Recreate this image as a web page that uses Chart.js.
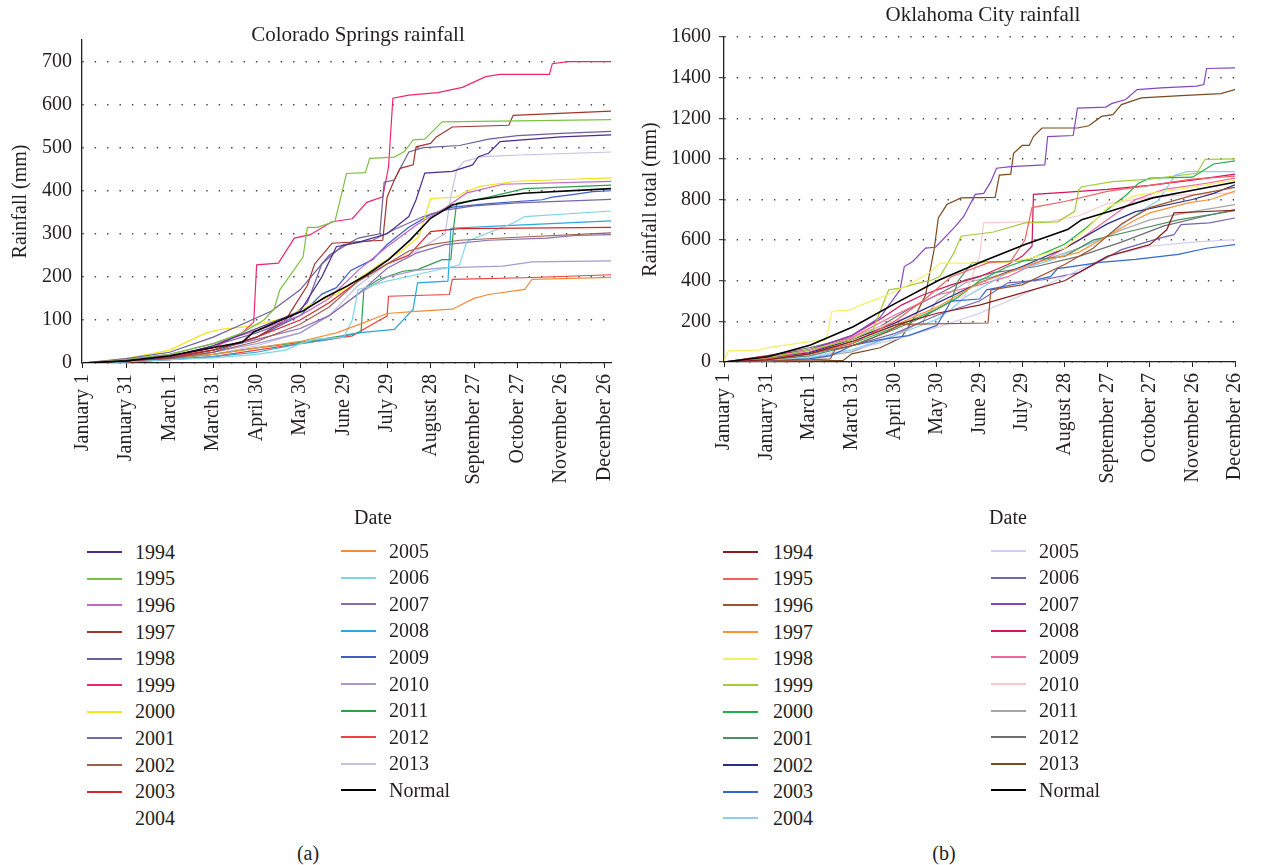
<!DOCTYPE html>
<html>
<head>
<meta charset="utf-8">
<script src="https://cdn.jsdelivr.net/npm/chart.js@4.4.1/dist/chart.umd.min.js"></script>
<style>
  body { margin: 0; background: #fff; font-family: 'Liberation Serif', serif; color: #231f20; }
  #page { position: relative; width: 1265px; height: 865px; overflow: hidden; }
  canvas { position: absolute; top: 0; }
  .t { position: absolute; font-size: 20px; line-height: 24px; white-space: nowrap; }
  .c { transform: translateX(-50%); }
  .sw { position: absolute; width: 35px; height: 2px; }
</style>
</head>
<body>
<div id="page">
  <canvas id="co" width="640" height="530" style="left:0px"></canvas>
  <canvas id="ok" width="635" height="530" style="left:630px"></canvas>
  <div class="t c" style="left:358px;top:22px;font-size:21px">Colorado Springs rainfall</div>
  <div class="t c" style="left:983px;top:2px;font-size:21px">Oklahoma City rainfall</div>
  <div class="t c" style="left:373px;top:505px">Date</div>
  <div class="t c" style="left:1008px;top:505px">Date</div>
  <div class="t c" style="left:308px;top:841px">(a)</div>
  <div class="t c" style="left:944px;top:841px">(b)</div>
</div>
<script>
// tick labels (leap-year day numbers, every 30 days)
const dateLabels = ['January 1', 'January 31', 'March 1', 'March 31', 'April 30', 'May 30', 'June 29',
  'July 29', 'August 28', 'September 27', 'October 27', 'November 26', 'December 26'];
const dateTicks = [0, 30, 60, 90, 120, 150, 180, 210, 240, 270, 300, 330, 360];
const coTicks = [0, 100, 200, 300, 400, 500, 600, 700];
const okTicks = [0, 200, 400, 600, 800, 1000, 1200, 1400, 1600];
const years = ['1994', '1995', '1996', '1997', '1998', '1999', '2000', '2001', '2002', '2003', '2004',
  '2005', '2006', '2007', '2008', '2009', '2010', '2011', '2012', '2013', 'Normal'];

// Colorado Springs, cumulative rainfall (mm) as [day, total]
const co1994 = [[0,0],[30,5],[60,15],[90,40],[120,80],[150,120],[165,200],[175,270],[190,280],[210,300],[225,340],[230,379],[236,441],[255,445],[269,460],[273,479],[280,487],[288,514],[330,525],[365,530]];
const co1995 = [[0,0],[30,8],[60,20],[90,45],[110,70],[125,100],[132,125],[136,170],[152,246],[155,315],[162,315],[174,329],[179,398],[182,440],[195,442],[198,475],[215,478],[222,491],[228,518],[236,520],[248,560],[365,565]];
const co1996 = [[0,0],[30,8],[60,20],[90,45],[120,75],[150,110],[170,150],[190,215],[210,270],[230,320],[250,360],[265,395],[290,415],[365,422]];
const co1997 = [[0,0],[30,5],[60,12],[90,30],[120,60],[140,100],[155,180],[160,230],[172,278],[207,285],[210,385],[215,425],[219,452],[228,460],[230,502],[240,510],[244,525],[255,548],[294,552],[297,575],[365,585]];
const co1998 = [[0,0],[30,10],[60,25],[90,60],[110,90],[130,120],[150,170],[170,250],[190,290],[205,300],[208,420],[215,425],[225,490],[235,500],[260,505],[280,520],[300,528],[330,533],[365,538]];
const co1999 = [[0,0],[30,5],[60,15],[90,35],[110,70],[118,95],[120,228],[135,232],[146,290],[157,298],[172,328],[186,335],[196,373],[207,386],[211,455],[214,615],[225,622],[245,628],[262,640],[278,665],[288,670],[322,670],[324,695],[335,700],[365,700]];
const co2000 = [[0,0],[30,10],[60,30],[85,70],[95,78],[115,85],[140,105],[160,140],[175,160],[190,195],[205,230],[220,260],[232,294],[240,382],[258,385],[263,396],[274,410],[299,422],[365,430]];
const co2001 = [[0,0],[30,5],[60,12],[90,40],[120,70],[140,95],[155,140],[165,230],[180,275],[200,285],[215,310],[235,340],[250,355],[270,365],[300,372],[365,380]];
const co2002 = [[0,0],[30,5],[60,10],[90,25],[120,50],[150,90],[170,130],[190,190],[210,230],[225,260],[240,275],[260,285],[300,292],[365,302]];
const co2003 = [[0,0],[30,5],[60,15],[90,30],[120,60],[150,100],[170,140],[190,190],[210,230],[225,250],[240,305],[260,312],[365,315]];
const co2004 = [[0,0],[60,15],[120,60],[180,180],[240,280],[300,300],[365,310]];
const co2005 = [[0,0],[30,5],[60,12],[90,20],[120,35],[150,50],[175,70],[195,95],[210,115],[230,120],[255,125],[270,150],[280,159],[305,171],[310,194],[365,199]];
const co2006 = [[0,0],[30,3],[60,8],[90,12],[120,20],[140,30],[150,45],[160,55],[180,60],[186,100],[190,170],[210,190],[230,205],[250,220],[260,228],[265,282],[297,325],[305,340],[365,353]];
const co2007 = [[0,0],[30,5],[60,12],[90,30],[120,55],[150,80],[170,110],[190,160],[210,220],[230,255],[250,275],[280,285],[320,290],[340,296],[365,298]];
const co2008 = [[0,0],[30,3],[60,8],[90,15],[120,25],[150,45],[170,55],[190,70],[215,78],[228,125],[231,186],[252,190],[254,313],[300,320],[365,330]];
const co2009 = [[0,0],[30,3],[60,10],[90,25],[120,60],[150,110],[165,160],[175,175],[185,215],[200,240],[210,275],[225,315],[240,345],[255,362],[280,370],[317,379],[324,385],[338,391],[352,398],[365,400]];
const co2010 = [[0,0],[30,5],[60,12],[90,25],[120,45],[150,70],[170,110],[190,160],[210,200],[230,215],[248,221],[290,225],[310,235],[365,237]];
const co2011 = [[0,0],[30,3],[60,10],[90,20],[120,35],[150,48],[179,63],[192,71],[194,171],[204,194],[221,213],[231,217],[248,240],[254,240],[256,317],[258,371],[280,385],[305,405],[365,413]];
const co2012 = [[0,0],[30,2],[60,8],[90,15],[120,30],[150,45],[170,55],[186,63],[205,100],[210,109],[211,155],[253,159],[255,194],[305,198],[365,205]];
const co2013 = [[0,0],[30,5],[60,10],[90,20],[120,40],[150,70],[170,110],[190,180],[210,230],[230,260],[250,300],[254,387],[258,448],[263,468],[276,479],[302,483],[365,490]];
const coNormal = [[0,0],[30,5],[60,17],[90,36],[110,48],[118,72],[133,94],[152,121],[167,152],[182,178],[196,205],[211,240],[226,286],[240,336],[255,367],[270,378],[304,394],[365,405]];

// Oklahoma City, cumulative rainfall (mm) as [day, total]
const ok1994 = [[0,0],[30,10],[60,40],[90,100],[120,180],[150,240],[180,280],[210,340],[240,400],[270,520],[300,578],[312,652],[317,734],[360,747]];
const ok1995 = [[0,0],[30,15],[60,40],[90,90],[120,200],[140,300],[160,420],[187,490],[202,495],[212,600],[217,760],[240,790],[270,840],[300,870],[330,900],[360,915]];
const ok1996 = [[0,0],[30,5],[60,10],[75,15],[78,60],[95,90],[115,150],[125,185],[186,192],[188,355],[210,380],[240,480],[260,560],[280,680],[300,760],[330,820],[360,860]];
const ok1997 = [[0,0],[30,10],[60,40],[90,100],[120,180],[150,270],[165,330],[180,390],[200,440],[220,490],[250,540],[270,620],[290,700],[300,734],[327,783],[343,800],[360,841]];
const ok1998 = [[0,0],[3,55],[25,58],[30,70],[60,100],[72,110],[76,250],[88,255],[100,290],[115,330],[130,380],[145,440],[152,487],[176,487],[200,490],[215,510],[240,560],[255,650],[270,760],[290,820],[320,850],[360,895]];
const ok1999 = [[0,0],[30,20],[60,60],[90,110],[105,160],[116,355],[124,364],[137,388],[147,405],[152,421],[162,537],[167,619],[190,640],[212,685],[235,690],[247,742],[250,849],[252,863],[274,888],[300,900],[333,929],[339,998],[360,1000]];
const ok2000 = [[0,0],[30,15],[60,40],[90,90],[120,170],[150,260],[165,320],[180,400],[200,470],[220,520],[240,580],[255,660],[270,750],[283,820],[292,880],[300,905],[330,910],[345,975],[360,990]];
const ok2001 = [[0,0],[30,10],[60,30],[90,80],[120,160],[140,220],[160,300],[165,400],[175,490],[200,495],[215,500],[240,520],[260,600],[290,650],[320,700],[360,745]];
const ok2002 = [[0,0],[30,15],[60,45],[90,110],[120,190],[150,290],[180,390],[210,470],[240,560],[270,680],[290,740],[330,800],[345,830],[360,872]];
const ok2003 = [[0,0],[30,5],[60,15],[75,30],[90,80],[110,110],[130,130],[150,180],[160,300],[180,310],[185,355],[210,390],[230,420],[235,460],[245,470],[265,490],[290,505],[320,530],[340,560],[360,578]];
const ok2004 = [[0,0],[30,5],[60,20],[90,60],[120,130],[135,170],[150,210],[160,260],[170,320],[200,440],[230,500],[250,560],[270,620],[285,700],[300,770],[306,795],[318,920],[326,937],[360,937]];
const ok2005 = [[0,0],[30,10],[60,30],[90,60],[120,110],[150,170],[180,240],[210,330],[240,420],[270,520],[300,570],[330,590],[360,602]];
const ok2006 = [[0,0],[30,15],[60,40],[90,80],[120,140],[150,230],[180,300],[200,390],[225,405],[250,440],[280,553],[307,610],[317,627],[322,676],[342,685],[360,709]];
const ok2007 = [[0,0],[30,20],[60,60],[90,130],[110,220],[124,355],[127,470],[133,495],[142,561],[149,565],[163,668],[169,718],[177,825],[183,830],[188,888],[192,954],[202,962],[226,970],[228,1110],[246,1115],[249,1250],[269,1255],[273,1272],[283,1292],[291,1341],[308,1350],[333,1358],[338,1366],[340,1445],[360,1448]];
const ok2008 = [[0,0],[30,30],[60,60],[90,130],[110,210],[125,280],[140,330],[160,380],[180,420],[200,480],[210,520],[217,570],[218,825],[240,835],[270,850],[300,870],[330,895],[360,925]];
const ok2009 = [[0,0],[30,20],[60,50],[90,120],[120,230],[150,330],[180,380],[200,420],[230,520],[250,600],[270,700],[290,800],[310,850],[340,880],[360,905]];
const ok2010 = [[0,0],[30,25],[60,60],[90,120],[120,200],[150,260],[170,330],[180,520],[183,685],[230,693],[250,720],[270,780],[300,810],[330,825],[360,833]];
const ok2011 = [[0,0],[30,5],[60,20],[90,50],[120,130],[140,200],[150,300],[170,390],[190,420],[220,490],[250,560],[280,650],[300,700],[330,740],[360,775]];
const ok2012 = [[0,0],[30,30],[60,70],[90,120],[110,175],[130,260],[150,330],[170,405],[190,440],[220,470],[250,520],[280,590],[310,670],[340,720],[360,750]];
const ok2013 = [[0,0],[30,2],[60,5],[84,8],[90,40],[110,70],[125,120],[135,230],[142,330],[148,553],[151,709],[157,775],[167,808],[191,810],[194,920],[202,925],[204,1028],[210,1066],[215,1066],[218,1110],[224,1152],[249,1152],[257,1163],[266,1209],[274,1218],[280,1267],[294,1300],[322,1311],[350,1321],[360,1341]];
const okNormal = [[0,0],[31,26],[61,84],[91,174],[121,290],[152,405],[182,495],[212,578],[242,652],[252,701],[272,742],[302,808],[333,849],[360,885]];

const coSeries = [co1994, co1995, co1996, co1997, co1998, co1999, co2000, co2001, co2002, co2003, co2004,
  co2005, co2006, co2007, co2008, co2009, co2010, co2011, co2012, co2013, coNormal];
const okSeries = [ok1994, ok1995, ok1996, ok1997, ok1998, ok1999, ok2000, ok2001, ok2002, ok2003, ok2004,
  ok2005, ok2006, ok2007, ok2008, ok2009, ok2010, ok2011, ok2012, ok2013, okNormal];

const coColors = ['#4b2c8f', '#7cc242', '#c266c4', '#a3352f', '#6d5e9c', '#f0266d', '#f2e51d', '#7566a6',
  '#a0604a', '#d9262a', '#ffffff', '#f28c3c', '#7fd5e3', '#8a6bb0', '#2aa6e0', '#3d5fc4', '#a89ad0',
  '#2e9e4a', '#f04040', '#c6c0e0', '#000000'];
const okColors = ['#8b1c1c', '#f26060', '#a0522d', '#f7943a', '#f5f060', '#a3cc3a', '#22b04b', '#4e8f5e',
  '#2c2c88', '#3366cc', '#8ccdf0', '#d0cdf0', '#7464b4', '#8447c0', '#d4145a', '#f2679a', '#f9c9cc',
  '#a6a6a6', '#6e6e6e', '#7b4a1e', '#000000'];

const FONT = 'Liberation Serif';
const INK = '#231f20';

function buildDatasets(series, colors) {
  return series.map((s, i) => ({
    label: years[i],
    data: s.map(p => ({ x: p[0], y: p[1] })),
    borderColor: colors[i],
    borderWidth: years[i] === 'Normal' ? 1.6 : 1.2,
    pointRadius: 0,
    fill: false,
    tension: 0,
    order: years[i] === 'Normal' ? -1 : (colors[i] === '#ffffff' ? 99 : i)
  }));
}

function makeChart(id, series, colors, o) {
  return new Chart(document.getElementById(id), {
    type: 'line',
    data: { datasets: buildDatasets(series, colors) },
    options: {
      responsive: false,
      animation: false,
      devicePixelRatio: 1,
      layout: { padding: { left: 0, top: o.top, right: o.right, bottom: 0 } },
      plugins: { legend: { display: false }, tooltip: { enabled: false } },
      scales: {
        x: {
          type: 'linear',
          min: o.xMin,
          max: o.xMax,
          afterBuildTicks: s => { s.ticks = dateTicks.map(v => ({ value: v })); },
          afterFit: s => { s.height = o.xHeight; },
          ticks: {
            autoSkip: false, minRotation: 90, maxRotation: 90, padding: 6, color: INK,
            font: { family: FONT, size: 20 },
            callback: (v, i) => dateLabels[i]
          },
          grid: { drawOnChartArea: false, drawTicks: true, tickLength: 5, color: INK, lineWidth: 1 },
          border: { display: true, color: INK, width: 1.3 }
        },
        y: {
          min: 0,
          max: o.yMax,
          afterBuildTicks: s => { s.ticks = o.yTicks.map(v => ({ value: v })); },
          afterFit: s => { s.width = o.yWidth; },
          ticks: {
            padding: o.tickMarks ? 8 : 10, color: INK, font: { family: FONT, size: 20 },
            callback: v => String(v)
          },
          grid: {
            color: '#444', lineWidth: 1.4, drawTicks: o.tickMarks, tickLength: 5,
            tickColor: INK, tickWidth: 1, tickBorderDash: []
          },
          border: { display: true, color: INK, width: 1.3, dash: [1.4, 11] },
          title: {
            display: true, text: o.yTitle, color: INK,
            font: { family: FONT, size: 20 }, padding: { top: 9, bottom: 0 }
          }
        }
      }
    }
  });
}

makeChart('co', coSeries, coColors, {
  top: 40, right: 29, xHeight: 167, yWidth: 82, xMin: -0.5, xMax: 364.5,
  yMax: 750, yTicks: coTicks, yTitle: 'Rainfall (mm)', tickMarks: false
});
makeChart('ok', okSeries, okColors, {
  top: 37, right: 15, xHeight: 168, yWidth: 94, xMin: 0, xMax: 360,
  yMax: 1600, yTicks: okTicks, yTitle: 'Rainfall total (mm)', tickMarks: true
});

// legends: two columns under each panel
const page = document.getElementById('page');
function legend(colors, cols) {
  years.forEach((name, i) => {
    const col = i < 11 ? cols[0] : cols[1];
    const row = i < 11 ? i : i - 11;
    const y = col.y0 + row * 26.6;
    const sw = document.createElement('div');
    sw.className = 'sw';
    sw.style.left = col.line + 'px';
    sw.style.top = (y - 0.5) + 'px';
    sw.style.background = colors[i];
    page.appendChild(sw);
    const tx = document.createElement('div');
    tx.className = 't';
    tx.style.left = col.text + 'px';
    tx.style.top = (y - 12) + 'px';
    tx.textContent = name;
    page.appendChild(tx);
  });
}
legend(coColors, [{ line: 87, text: 135, y0: 551.7 }, { line: 341, text: 389, y0: 550.5 }]);
legend(okColors, [{ line: 723, text: 773, y0: 551.7 }, { line: 991, text: 1039, y0: 550.5 }]);
</script>
</body>
</html>
